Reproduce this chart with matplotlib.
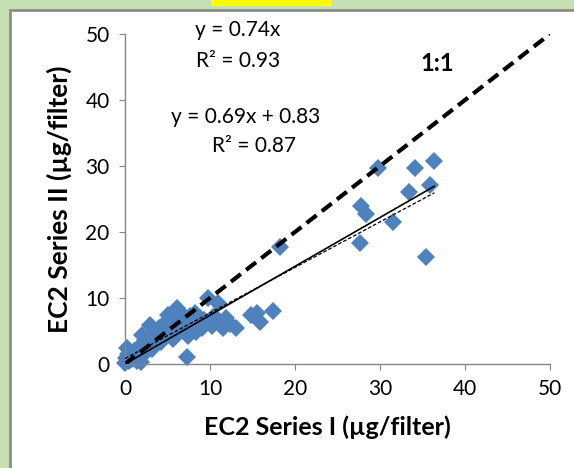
import numpy as np
from matplotlib import pyplot as plt
from matplotlib.patches import Rectangle

plt.rcParams['font.family'] = ['Lato', 'DejaVu Sans']

# EC2 values, series I (x) vs series II (y), ug/filter
series1 = [0.0, 0.1, 0.2, 0.3, 0.5, 0.6, 0.8, 1.0, 1.2, 1.4, 1.6, 1.9, 2.0, 2.2,
           2.4, 2.6, 2.9, 3.0, 3.2, 3.4, 3.6, 3.8, 4.0, 4.2, 4.4, 4.6, 4.8, 5.1,
           5.2, 5.4, 5.6, 5.8, 6.1, 6.0, 6.3, 6.5, 6.7, 6.9, 7.1, 7.3, 7.4, 7.6,
           7.8, 8.0, 8.2, 8.4, 8.6, 8.8, 9.0, 9.3, 9.8, 10.2, 10.5, 10.9, 11.2,
           11.5, 11.9, 12.4, 13.1, 14.8, 15.5, 15.9, 17.4, 18.2, 27.7, 27.8,
           28.4, 29.8, 31.5, 33.4, 34.1, 35.4, 35.9, 36.4]
series2 = [0.2, 0.9, 2.4, 1.5, 0.4, 1.8, 0.7, 2.0, 1.2, 0.5, 2.6, 0.3, 4.4, 1.5,
           3.6, 2.4, 5.9, 4.0, 2.2, 5.0, 3.1, 4.6, 5.4, 3.4, 4.2, 6.0, 5.0, 7.4,
           4.5, 6.5, 3.8, 5.6, 8.5, 7.0, 4.9, 6.2, 7.6, 5.3, 6.7, 1.1, 4.3, 7.3,
           5.8, 6.6, 7.7, 4.9, 6.1, 7.0, 5.4, 6.6, 10.0, 5.8, 7.2, 9.2, 6.3,
           5.5, 7.0, 6.0, 5.4, 7.4, 7.7, 6.4, 8.0, 17.8, 18.3, 23.9,
           22.7, 29.7, 21.5, 26.1, 29.7, 16.2, 27.1, 30.7]

fig = plt.figure(figsize=(5.74, 4.68), dpi=100)
fig.patch.set_facecolor('#c6e0b4')
fig.add_artist(Rectangle((10/574, -0.1), 1.2, 1.1 - 10/468, transform=fig.transFigure,
                         facecolor='white', edgecolor='#8c8c8c', lw=2, zorder=-5))
fig.add_artist(Rectangle((211/574, 1 - 6/468), 120/574, 0.05, transform=fig.transFigure,
                         facecolor='#ffff00', edgecolor='none', zorder=-5))

ax = fig.add_axes([125/574, 1 - 364/468, 425/574, 330/468])
ax.set_facecolor('none')

x = np.array(series1)
y = np.array(series2)
xfit = np.array([0, x.max()])

ax.plot(x, y, 'D', color='#4f81bd', markersize=9.5, markeredgewidth=0, clip_on=False, zorder=2)
ax.plot([0, 50], [0, 50], 'k--', lw=3, dashes=(3, 1.6), zorder=3)
ax.plot(xfit, 0.74*xfit, 'k-', lw=1.2, zorder=4)
ax.plot(xfit, 0.69*xfit + 0.83, 'k--', lw=0.9, dashes=(3, 1.5), zorder=4)

ax.text(13.3, 50.6, 'y = 0.74x', ha='center', va='center', fontsize=15)
ax.text(13.3, 45.9, 'R² = 0.93', ha='center', va='center', fontsize=15)
ax.text(14.2, 37.4, 'y = 0.69x + 0.83', ha='center', va='center', fontsize=15)
ax.text(15.2, 33.0, 'R² = 0.87', ha='center', va='center', fontsize=15)
ax.text(36.7, 45.6, '1:1', ha='center', va='center', fontsize=17, fontweight='bold')

ax.set_xlim(0, 50)
ax.set_ylim(0, 50)
ax.set_xticks(range(0, 51, 10))
ax.set_yticks(range(0, 51, 10))
for s in ['top', 'right']:
    ax.spines[s].set_visible(False)
for s in ['left', 'bottom']:
    ax.spines[s].set_color('#868686')
    ax.spines[s].set_linewidth(1)
ax.tick_params(colors='#868686', labelcolor='black', labelsize=15, length=4, pad=7)

ax.set_xlabel('EC2 Series I (µg/filter)', fontsize=18, fontweight='bold')
ax.xaxis.set_label_coords(0.475, -0.155)
ax.set_ylabel('EC2 Series II (µg/filter)', fontsize=19, fontweight='bold', labelpad=10)

fig.savefig('out.png', dpi=100, facecolor=fig.get_facecolor())
